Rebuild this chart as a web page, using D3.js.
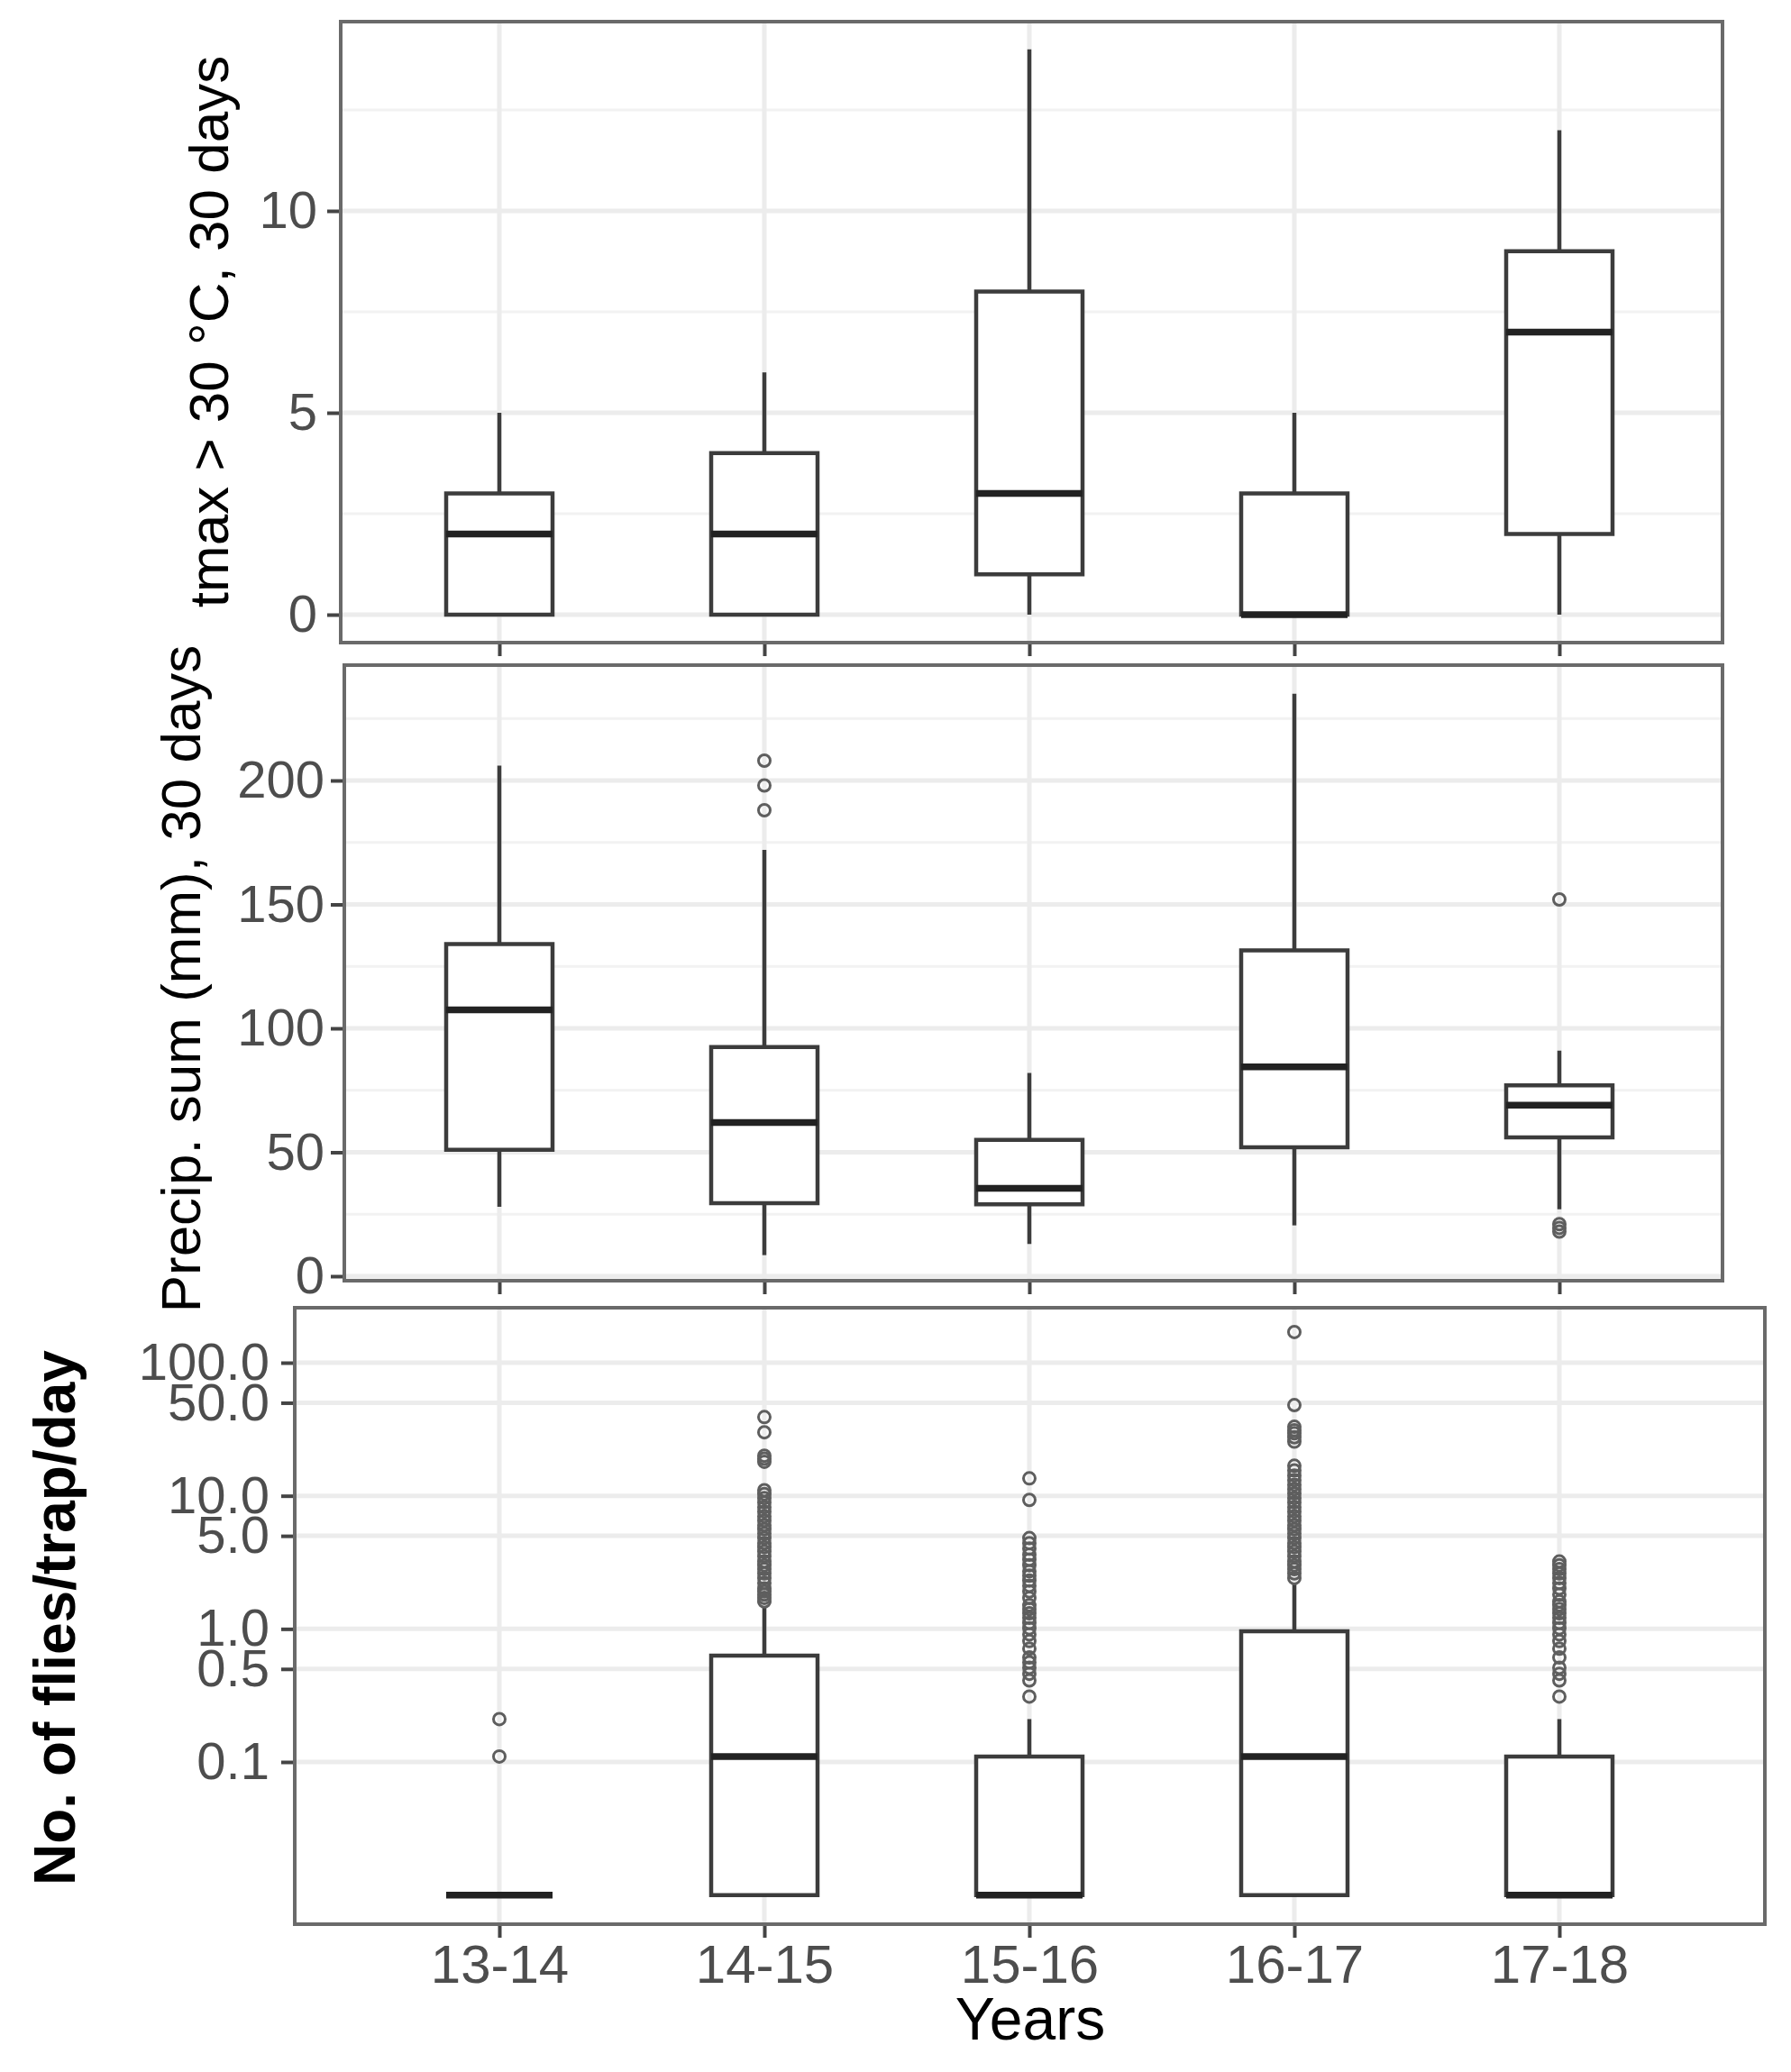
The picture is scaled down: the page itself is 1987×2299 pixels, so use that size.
<!DOCTYPE html>
<html>
<head>
<meta charset="utf-8">
<script src="https://cdn.jsdelivr.net/npm/d3@7"></script>
<style>
  body { margin: 0; background: #fff; }
  svg { display: block; }
  text { font-family: "Liberation Sans", Arial, sans-serif; }
</style>
</head>
<body>
<svg id="chart" width="1987" height="2299"></svg>
<script>
// categories
const years = ["13-14", "14-15", "15-16", "16-17", "17-18"];

// panel 1: days with tmax > 30 °C in 30 days
const tmaxLow  = [0, 0, 0, 0, 0];
const tmaxQ1   = [0, 0, 1, 0, 2];
const tmaxMed  = [2, 2, 3, 0, 7];
const tmaxQ3   = [3, 4, 8, 3, 9];
const tmaxHigh = [5, 6, 14, 5, 12];
const tmaxOut  = [[], [], [], [], []];
const tmaxTicks = [0, 5, 10];
const tmaxMinor = [2.5, 7.5, 12.5];

// panel 2: precipitation sum (mm) in 30 days
const precipLow  = [28, 8.5, 13, 20.5, 27];
const precipQ1   = [51, 29.5, 29, 52, 56];
const precipMed  = [107.5, 62, 35.5, 84.5, 69];
const precipQ3   = [134, 92.5, 55, 131.5, 77];
const precipHigh = [206, 172, 82, 235, 91];
const precipOut  = [[], [208, 198, 188], [], [], [152, 21, 19.5, 18]];
const precipTicks = [0, 50, 100, 150, 200];
const precipMinor = [25, 75, 125, 175, 225];

// panel 3: flies per trap per day (log axis, plotted as value + 0.01)
const fliesLow  = [0, 0, 0, 0, 0];
const fliesQ1   = [0, 0, 0, 0, 0];
const fliesMed  = [0, 0.1, 0, 0.1, 0];
const fliesQ3   = [0, 0.62, 0.1, 0.95, 0.1];
const fliesHigh = [0, 1.45, 0.2, 2.2, 0.2];
const flies1314Out = [0.1, 0.2];
const flies1415Out = [1.6, 1.7, 1.8, 1.9, 2.0, 2.2, 2.4, 2.6, 2.8, 3.0, 3.2, 3.5, 3.8, 4.1, 4.4,
  4.8, 5.2, 5.6, 6.0, 6.5, 7.0, 7.6, 8.2, 8.9, 9.6, 10.3, 11.0, 18, 19, 20, 30, 39];
const flies1516Out = [0.3, 0.4, 0.45, 0.5, 0.55, 0.6, 0.7, 0.8, 0.9, 1.0, 1.1, 1.2, 1.3, 1.4, 1.5,
  1.7, 1.9, 2.1, 2.3, 2.5, 2.7, 3.0, 3.3, 3.6, 4.0, 4.4, 4.8, 9.3, 13.5];
const flies1617Out = [2.4, 2.6, 2.8, 3.0, 3.2, 3.5, 3.8, 4.1, 4.4, 4.8, 5.2, 5.6, 6.0, 6.5, 7.0,
  7.6, 8.2, 8.9, 9.6, 10.4, 11.2, 12.1, 13.1, 14.2, 15.5, 16.8, 25.5, 27.5, 29.5, 31, 33, 48, 170];
const flies1718Out = [0.3, 0.4, 0.45, 0.5, 0.6, 0.7, 0.8, 0.9, 1.0, 1.1, 1.2, 1.3, 1.4, 1.5, 1.6,
  1.8, 2.0, 2.2, 2.4, 2.6, 2.8, 3.0, 3.2];
const fliesTicks = [0.1, 0.5, 1, 5, 10, 50, 100];
const fliesTickLabels = ["0.1", "0.5", "1.0", "5.0", "10.0", "50.0", "100.0"];

const svg = d3.select("#chart");

// shared category position scale (index -> px)
const x = d3.scaleLinear().domain([0, years.length - 1]).range([554, 1730]);
const boxW = 118;

const panels = [
  {
    frame: {x0: 378, x1: 1911, y0: 24, y1: 713},
    y: d3.scaleLinear().domain([0, 10]).range([682, 234]),
    val: v => v,
    ticks: tmaxTicks, minor: tmaxMinor, fmt: d => String(d),
    low: tmaxLow, q1: tmaxQ1, med: tmaxMed, q3: tmaxQ3, high: tmaxHigh, out: tmaxOut,
    labelEnd: 352, showX: false,
    title: {text: "tmax > 30 °C, 30 days", x: 253, y: 368, size: 62, weight: 400}
  },
  {
    frame: {x0: 382, x1: 1911, y0: 738, y1: 1421},
    y: d3.scaleLinear().domain([0, 200]).range([1416, 866]),
    val: v => v,
    ticks: precipTicks, minor: precipMinor, fmt: d => String(d),
    low: precipLow, q1: precipQ1, med: precipMed, q3: precipQ3, high: precipHigh, out: precipOut,
    labelEnd: 360, showX: false,
    title: {text: "Precip. sum (mm), 30 days", x: 222, y: 1086, size: 62, weight: 400}
  },
  {
    frame: {x0: 327, x1: 1958, y0: 1451, y1: 2135},
    y: d3.scaleLog().domain([0.1, 100]).range([1955, 1512]),
    val: v => v + 0.01,
    ticks: fliesTicks, minor: [], fmt: (d, i) => fliesTickLabels[i],
    low: fliesLow, q1: fliesQ1, med: fliesMed, q3: fliesQ3, high: fliesHigh,
    out: [flies1314Out, flies1415Out, flies1516Out, flies1617Out, flies1718Out],
    labelEnd: 299, showX: true,
    title: {text: "No. of flies/trap/day", x: 83, y: 1795, size: 64, weight: 700}
  }
];

panels.forEach(drawPanel);

svg.append("text")
  .attr("x", 1143).attr("y", 2263)
  .attr("text-anchor", "middle")
  .attr("font-size", 66)
  .attr("fill", "#000")
  .text("Years");

function drawPanel(p) {
  const f = p.frame;
  const y = p.y;
  const g = svg.append("g");

  // grid
  const grid = g.append("g");
  grid.selectAll(".minor").data(p.minor).enter().append("line")
    .attr("x1", f.x0).attr("x2", f.x1)
    .attr("y1", d => y(d)).attr("y2", d => y(d))
    .attr("stroke", "#f2f2f2").attr("stroke-width", 3);
  grid.selectAll(".major").data(p.ticks).enter().append("line")
    .attr("x1", f.x0).attr("x2", f.x1)
    .attr("y1", d => y(d)).attr("y2", d => y(d))
    .attr("stroke", "#ececec").attr("stroke-width", 5);
  grid.selectAll(".vert").data(years).enter().append("line")
    .attr("x1", (d, i) => x(i)).attr("x2", (d, i) => x(i))
    .attr("y1", f.y0).attr("y2", f.y1)
    .attr("stroke", "#ececec").attr("stroke-width", 5);

  const py = v => y(p.val(v));

  // whiskers
  const boxes = g.selectAll(".box").data(years).enter().append("g");
  boxes.append("line")
    .attr("x1", (d, i) => x(i)).attr("x2", (d, i) => x(i))
    .attr("y1", (d, i) => py(p.q3[i])).attr("y2", (d, i) => py(p.high[i]))
    .attr("stroke", "#3c3c3c").attr("stroke-width", 4.5);
  boxes.append("line")
    .attr("x1", (d, i) => x(i)).attr("x2", (d, i) => x(i))
    .attr("y1", (d, i) => py(p.q1[i])).attr("y2", (d, i) => py(p.low[i]))
    .attr("stroke", "#3c3c3c").attr("stroke-width", 4.5);

  // box body (path so that zero-height boxes still show)
  boxes.append("path")
    .attr("d", (d, i) => {
      const a = x(i) - boxW / 2, b = x(i) + boxW / 2;
      return `M${a},${py(p.q1[i])}H${b}V${py(p.q3[i])}H${a}Z`;
    })
    .attr("fill", "#fff").attr("stroke", "#3c3c3c").attr("stroke-width", 4.5);

  // median
  boxes.append("line")
    .attr("x1", (d, i) => x(i) - boxW / 2).attr("x2", (d, i) => x(i) + boxW / 2)
    .attr("y1", (d, i) => py(p.med[i])).attr("y2", (d, i) => py(p.med[i]))
    .attr("stroke", "#222").attr("stroke-width", 7.5);

  // outliers
  boxes.each(function(d, i) {
    d3.select(this).selectAll("circle").data(p.out[i]).enter().append("circle")
      .attr("cx", x(i)).attr("cy", v => py(v))
      .attr("r", 6.5)
      .attr("fill", "none").attr("stroke", "#5e5e5e").attr("stroke-width", 3);
  });

  // y axis
  const yAxis = d3.axisLeft(y).tickValues(p.ticks).tickFormat(p.fmt)
    .tickSize(15).tickPadding(f.x0 - 15 - p.labelEnd);
  const ya = g.append("g").attr("transform", `translate(${f.x0},0)`).call(yAxis);
  styleAxis(ya, 58);

  // x axis
  const xAxis = d3.axisBottom(x).tickValues(d3.range(years.length))
    .tickFormat(i => p.showX ? years[i] : "")
    .tickSize(15).tickPadding(7);
  const xa = g.append("g").attr("transform", `translate(0,${f.y1})`).call(xAxis);
  styleAxis(xa, 60);

  // panel border
  g.append("rect")
    .attr("x", f.x0).attr("y", f.y0)
    .attr("width", f.x1 - f.x0).attr("height", f.y1 - f.y0)
    .attr("fill", "none").attr("stroke", "#6a6a6a").attr("stroke-width", 4);

  // axis title
  svg.append("text")
    .attr("transform", `translate(${p.title.x},${p.title.y}) rotate(-90)`)
    .attr("text-anchor", "middle")
    .attr("font-size", p.title.size)
    .attr("font-weight", p.title.weight)
    .attr("fill", "#000")
    .text(p.title.text);
}

function styleAxis(sel, size) {
  sel.select(".domain").remove();
  sel.selectAll(".tick line").attr("stroke", "#444").attr("stroke-width", 4);
  sel.selectAll(".tick text")
    .attr("fill", "#4d4d4d")
    .attr("font-size", size)
    .attr("font-family", "'Liberation Sans', Arial, sans-serif");
}
</script>
</body>
</html>
